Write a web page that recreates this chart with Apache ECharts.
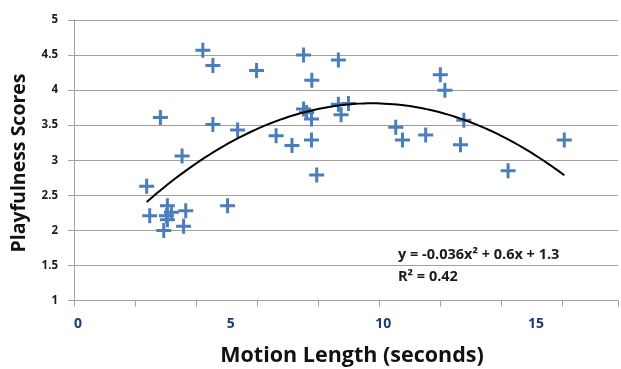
<!DOCTYPE html>
<html><head><meta charset="utf-8">
<script src="https://cdn.jsdelivr.net/npm/echarts@6/dist/echarts.min.js"></script>
<style>html,body{margin:0;padding:0;background:#fff}#c{width:621px;height:369px}</style>
</head><body><div id="c"></div>
<script>
// Motion length (seconds)
var motionLength = [2.38,2.48,2.83,3.54,3.06,3.19,3.03,3.06,2.94,3.66,3.59,4.22,4.55,4.55,5.03,5.36,5.98,6.62,7.14,7.52,7.52,7.62,7.78,7.79,7.78,7.95,8.66,8.66,8.99,8.75,10.54,10.76,11.52,12.0,12.15,12.77,12.66,14.22,16.06];
// Playfulness scores
var playfulness = [2.63,2.21,3.61,3.06,2.35,2.26,2.21,2.15,2.00,2.28,2.06,4.57,4.35,3.51,2.35,3.43,4.28,3.35,3.21,4.50,3.73,3.68,3.59,4.14,3.29,2.79,4.43,3.80,3.81,3.65,3.47,3.29,3.36,4.22,4.00,3.57,3.22,2.85,3.29];
var yTicks = [1,1.5,2,2.5,3,3.5,4,4.5,5];
var xLabelTicks = [0,5,10,15];
var equationText = 'y = -0.036x\u00b2 + 0.6x + 1.3';
var r2Text = 'R\u00b2 = 0.42';
var yTitle = 'Playfulness Scores';
var xTitle = 'Motion Length (seconds)';

// quadratic least-squares trendline from the data
function quadFit(xs, ys){
  var S=[0,0,0,0,0], T=[0,0,0];
  for (var i=0;i<xs.length;i++){
    var x=xs[i], y=ys[i], p=1;
    for (var k=0;k<5;k++){ S[k]+=p; if(k<3) T[k]+=p*y; p*=x; }
  }
  var A=[[S[0],S[1],S[2],T[0]],[S[1],S[2],S[3],T[1]],[S[2],S[3],S[4],T[2]]];
  for (var c=0;c<3;c++){
    for (var r=c+1;r<3;r++){ var f=A[r][c]/A[c][c]; for (var j=c;j<4;j++) A[r][j]-=f*A[c][j]; }
  }
  var b=[0,0,0];
  for (var r=2;r>=0;r--){ var s=A[r][3]; for (var j=r+1;j<3;j++) s-=A[r][j]*b[j]; b[r]=s/A[r][r]; }
  return b;
}
var coef = quadFit(motionLength, playfulness);
var xmin = Math.min.apply(null, motionLength), xmax = Math.max.apply(null, motionLength);
var trend = [];
for (var i=0;i<=100;i++){ var x = xmin + (xmax-xmin)*i/100; trend.push([x, coef[0]+coef[1]*x+coef[2]*x*x]); }

var pts = motionLength.map(function(x,i){ return [x, playfulness[i]]; });
var font = '"Open Sans", sans-serif';
var XMAX = 17.82;
var chart = echarts.init(document.getElementById('c'));
chart.setOption({
  animation:false,
  grid:{left:74,right:0,top:20,bottom:68.5,containLabel:false},
  xAxis:[{
    type:'value',min:0,max:XMAX,interval:2,
    axisLine:{show:true,lineStyle:{color:'#a0a0a0',width:1}},
    axisTick:{show:true,length:6,lineStyle:{color:'#a0a0a0'}},
    axisLabel:{show:false},splitLine:{show:false}
  },{
    type:'value',min:0,max:XMAX,interval:5,position:'bottom',
    axisLine:{show:false},axisTick:{show:false},splitLine:{show:false},
    axisLabel:{show:true,margin:17,color:'#1f3a78',fontWeight:'bold',fontSize:14,fontFamily:font,padding:[0,0,0,8],
      formatter:function(v){ return xLabelTicks.indexOf(v)>=0 ? String(v) : ''; }}
  }],
  yAxis:{
    type:'value',min:1,max:5,interval:0.5,
    axisLine:{show:true,lineStyle:{color:'#a0a0a0',width:1}},
    axisTick:{show:true,length:6,lineStyle:{color:'#a0a0a0'}},
    splitLine:{show:true,lineStyle:{color:'#a0a0a0',width:1}},
    axisLabel:{margin:16,color:'#1a1a1a',fontWeight:'bold',fontSize:11.5,fontFamily:font,
      formatter:function(v){ return yTicks.indexOf(v)>=0 ? String(v) : ''; }}
  },
  series:[{
    type:'scatter',data:pts,symbol:'path://M4,0H6V4H10V6H6V10H4V6H0V4H4Z',symbolSize:15,
    itemStyle:{color:'#4a7ebb',opacity:1}
  },{
    type:'line',data:trend,showSymbol:false,smooth:false,
    lineStyle:{color:'#000',width:2},z:3
  }],
  graphic:[{
    type:'text',left:398,top:247,style:{text:equationText,font:'bold 14.5px '+font,fill:'#1a1a1a'}
  },{
    type:'text',left:398,top:269,style:{text:r2Text,font:'bold 14.5px '+font,fill:'#1a1a1a'}
  },{
    type:'text',x:19,y:163,rotation:Math.PI/2,
    style:{text:yTitle,font:'bold 19.5px '+font,fill:'#111',align:'center',verticalAlign:'middle'}
  },{
    type:'text',x:352,y:356,
    style:{text:xTitle,font:'bold 21.5px '+font,fill:'#111',align:'center',verticalAlign:'middle'}
  }]
});
</script></body></html>
